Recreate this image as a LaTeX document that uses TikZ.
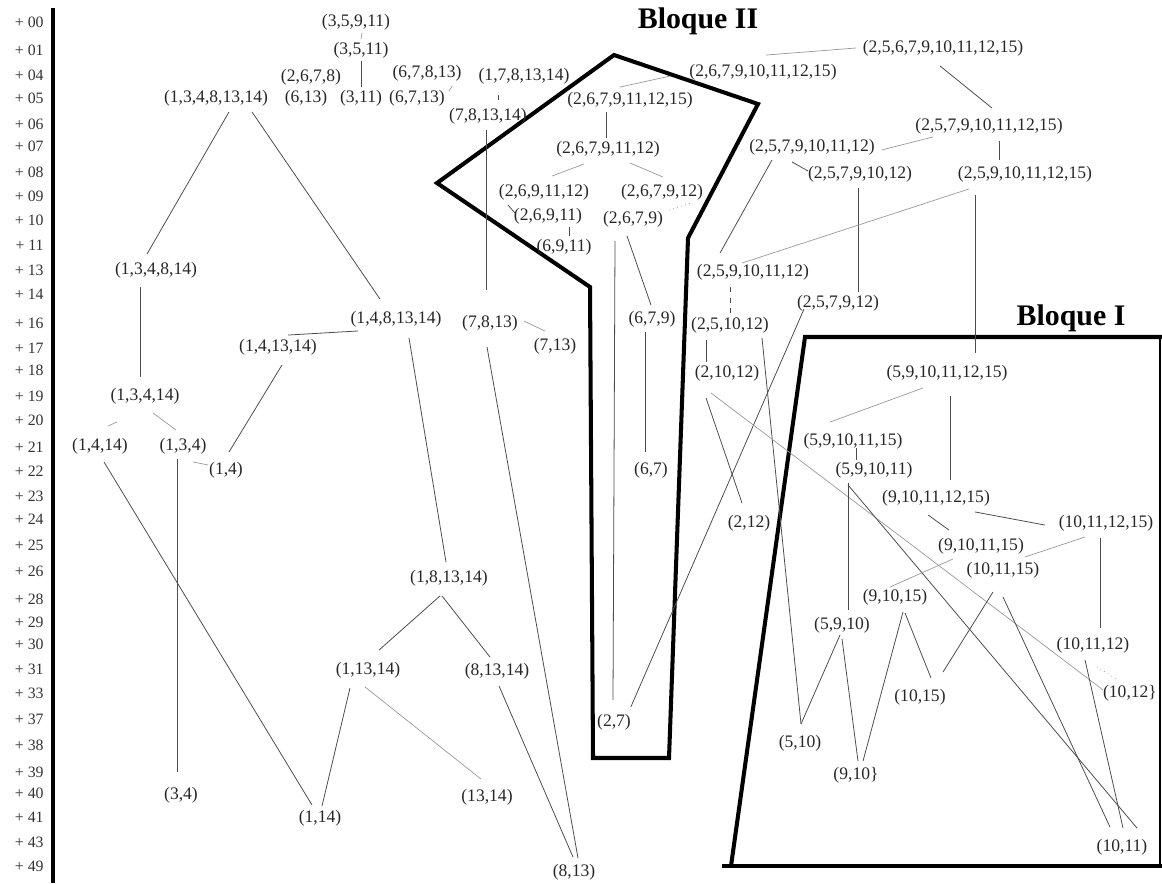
\documentclass[tikz,border=0pt]{standalone}
\usepackage{fontspec}
\setmainfont{Liberation Serif}
\usepackage{tikz}
\usetikzlibrary{calc}

\begin{document}
\begin{tikzpicture}[
    x=0.02cm, y=-0.02cm,
    set/.style={inner sep=1.5pt, font=\fontsize{10}{12}\selectfont, text=black!85},
    lvl/.style={anchor=east, inner sep=0pt, font=\fontsize{9}{11}\selectfont, text=black!80},
    link/.style={line width=0.45pt, black!70},
    weak/.style={line width=0.4pt, black!40},
    bloque/.style={line width=2.3pt, line join=miter},
    title/.style={font=\fontsize{17}{20}\selectfont\bfseries}
]
\useasboundingbox (0,0) rectangle (1162,883);

% Axis of levels
\draw[line width=2.2pt] (53,8) -- (53,883);
\foreach \yy/\lab in {22/00,50/01,75/04,98/05,124/06,146/07,172/08,196/09,220/10,245/11,270/13,294/14,323/16,348/17,370/18,396/19,420/20,447/21,471/22,496/23,519/24,545/25,571/26,599/28,622/29,644/30,669/31,693/33,719/37,745/38,772/39,793/40,817/41,842/43,866/49}
    \node[lvl] (t\lab) at (44,\yy) {+ \lab};

% Blocks
\draw[bloque] (614,55) -- (758,104) -- (688,238) -- (669,758) -- (593,758) -- (590,287) -- (437,183) -- cycle;
\draw[bloque] (731,866) -- (805,337) -- (1162,337);
\draw[bloque] (722,866) -- (1162,866);
\draw[line width=0.6pt] (1160,337) -- (1160,866);
\node[title] (b2) at (698,21) {Bloque II};
\node[title] (b1) at (1071,318) {Bloque I};

% Left tree
\node[set] (n3-5-9-11) at (356,22) {(3,5,9,11)};
\node[set] (n3-5-11) at (361,50) {(3,5,11)};
\node[set] (n2-6-7-8) at (311,77) {(2,6,7,8)};
\node[set] (n6-13) at (306,98) {(6,13)};
\node[set] (n3-11) at (361,98) {(3,11)};
\node[set] (n6-7-8-13) at (427,73) {(6,7,8,13)};
\node[set] (n6-7-13) at (417,98) {(6,7,13)};
\node[set] (n1-7-8-13-14) at (524,76) {(1,7,8,13,14)};
\node[set] (n7-8-13-14) at (488,116) {(7,8,13,14)};
\node[set] (n1-3-4-8-13-14) at (216,98) {(1,3,4,8,13,14)};
\node[set] (n1-3-4-8-14) at (156,270) {(1,3,4,8,14)};
\node[set] (n1-3-4-14) at (145,396) {(1,3,4,14)};
\node[set] (n1-4-8-13-14) at (396,319) {(1,4,8,13,14)};
\node[set] (n1-4-13-14) at (278,347) {(1,4,13,14)};
\node[set] (n1-4-14) at (100,446) {(1,4,14)};
\node[set] (n1-3-4) at (183,446) {(1,3,4)};
\node[set] (n1-4) at (226,470) {(1,4)};
\node[set] (n3-4) at (181,795) {(3,4)};
\node[set] (n1-14) at (320,818) {(1,14)};
\node[set] (n1-13-14) at (368,670) {(1,13,14)};
\node[set] (n1-8-13-14) at (449,578) {(1,8,13,14)};
\node[set] (n8-13-14) at (497,671) {(8,13,14)};
\node[set] (n13-14) at (487,797) {(13,14)};
\node[set] (n8-13) at (574,872) {(8,13)};
\node[set] (n7-8-13) at (490,323) {(7,8,13)};
\node[set] (n7-13) at (555,346) {(7,13)};

% Bloque II
\node[set] (n2-6-7-9-10-11-12-15) at (763,72) {(2,6,7,9,10,11,12,15)};
\node[set] (n2-6-7-9-11-12-15) at (630,100) {(2,6,7,9,11,12,15)};
\node[set] (n2-6-7-9-11-12) at (608,149) {(2,6,7,9,11,12)};
\node[set] (n2-6-9-11-12) at (544,192) {(2,6,9,11,12)};
\node[set] (n2-6-7-9-12) at (662,192) {(2,6,7,9,12)};
\node[set] (n2-6-9-11) at (548,216) {(2,6,9,11)};
\node[set] (n2-6-7-9) at (633,219) {(2,6,7,9)};
\node[set] (n6-9-11) at (564,247) {(6,9,11)};
\node[set] (n6-7-9) at (652,319) {(6,7,9)};
\node[set] (n6-7) at (651,470) {(6,7)};
\node[set] (n2-7) at (614,722) {(2,7)};

% Right part
\node[set] (n2-5-6-7-9-10-11-12-15) at (943,48) {(2,5,6,7,9,10,11,12,15)};
\node[set] (n2-5-7-9-10-11-12-15) at (989,126) {(2,5,7,9,10,11,12,15)};
\node[set] (n2-5-7-9-10-11-12) at (812,147) {(2,5,7,9,10,11,12)};
\node[set] (n2-5-9-10-11-12-15) at (1025,174) {(2,5,9,10,11,12,15)};
\node[set] (n2-5-7-9-10-12) at (860,174) {(2,5,7,9,10,12)};
\node[set] (n2-5-7-9-12) at (838,303) {(2,5,7,9,12)};
\node[set] (n2-5-9-10-11-12) at (753,272) {(2,5,9,10,11,12)};
\node[set] (n2-5-10-12) at (730,325) {(2,5,10,12)};
\node[set] (n2-10-12) at (727,373) {(2,10,12)};
\node[set] (n2-12) at (749,523) {(2,12)};

% Bloque I
\node[set] (n5-9-10-11-12-15) at (947,373) {(5,9,10,11,12,15)};
\node[set] (n5-9-10-11-15) at (853,441) {(5,9,10,11,15)};
\node[set] (n5-9-10-11) at (874,470) {(5,9,10,11)};
\node[set] (n9-10-11-12-15) at (936,498) {(9,10,11,12,15)};
\node[set] (n10-11-12-15) at (1106,523) {(10,11,12,15)};
\node[set] (n9-10-11-15) at (981,546) {(9,10,11,15)};
\node[set] (n10-11-15) at (1003,570) {(10,11,15)};
\node[set] (n9-10-15) at (895,597) {(9,10,15)};
\node[set] (n5-9-10) at (842,625) {(5,9,10)};
\node[set] (n10-11-12) at (1093,645) {(10,11,12)};
\node[set] (n10-12) at (1130,693) {(10,12\}};
\node[set] (n10-15) at (920,697) {(10,15)};
\node[set] (n5-10) at (800,743) {(5,10)};
\node[set] (n9-10) at (856,775) {(9,10\}};
\node[set] (n10-11) at (1122,847) {(10,11)};

% Links, left tree
\draw[weak] ($(n3-5-9-11.south)+(6,0)$) -- (n3-5-11.north);
\draw[link] (n3-5-11.south) -- (n3-11.north);
\draw[weak] ($(n6-7-13.east)+(1,-7)$) -- ($(n6-7-8-13.south east)+(-12,2)$);
\draw[link, dashed] ($(n1-7-8-13-14.south)+(-26,8)$) -- ($(n7-8-13-14.north)+(10,-4)$);
\draw[link] ($(n7-8-13-14.south)+(-2,3)$) -- ($(n7-8-13.north)+(-4,-22)$);
\draw[link] ($(n1-3-4-8-13-14.south)+(13,3)$) -- ($(n1-3-4-8-14.north)+(-9,-5)$);
\draw[link] ($(n1-3-4-8-13-14.south)+(36,3)$) -- ($(n1-4-8-13-14.north)+(-16,-9)$);
\draw[link] ($(n1-3-4-8-14.south)+(-16,6)$) -- ($(n1-3-4-14.north)+(-5,-8)$);
\draw[link] ($(n1-4-8-13-14.south)+(-38,1)$) -- ($(n1-4-13-14.north)+(10,-1)$);
\draw[link] ($(n1-4-13-14.south)+(4,7)$) -- ($(n1-4.north)+(3,-7)$);
\draw[weak] ($(n1-3-4-14.south)+(8,6)$) -- ($(n1-3-4.north)+(-7,-5)$);
\draw[weak] ($(n1-3-4-14.south)+(-28,15)$) -- ($(n1-4-14.north)+(8,-9)$);
\draw[weak] ($(n1-3-4.south)+(10,5)$) -- ($(n1-4.west)+(2,-5)$);
\draw[link] ($(n1-3-4.south)+(-6,2)$) -- ($(n3-4.north)+(-4,-12)$);
\draw[link] ($(n1-4-14.south)+(4,5)$) -- ($(n1-14.north)+(-8,-2)$);
\draw[link] ($(n1-13-14.south)+(-18,7)$) -- ($(n1-14.north)+(2,-1)$);
\draw[link] ($(n1-4-8-13-14.south)+(13,8)$) -- ($(n1-8-13-14.north)+(-3,-5)$);
\draw[link] ($(n1-8-13-14.south)+(-9,7)$) -- ($(n1-13-14.north)+(11,-9)$);
\draw[link] ($(n1-8-13-14.south)+(-7,7)$) -- ($(n8-13-14.north)+(-7,-3)$);
\draw[weak] ($(n1-13-14.south)+(-3,6)$) -- ($(n13-14.north)+(-6,-7)$);
\draw[link] ($(n8-13-14.south)+(2,4)$) -- ($(n8-13.north)+(-1,-4)$);
\draw[link] ($(n7-8-13.south)+(-3,13)$) -- ($(n8-13.north)+(4,-3)$);
\draw[weak] ($(n7-8-13.east)+(3,-2)$) -- ($(n7-13.north)+(-10,-4)$);

% Links, Bloque II
\draw[weak] ($(n2-5-6-7-9-10-11-12-15.west)+(-4,0)$) -- ($(n2-6-7-9-10-11-12-15.north)+(3,-6)$);
\draw[weak] ($(n2-6-7-9-11-12-15.north)+(-10,-2)$) -- ($(n2-6-7-9-10-11-12-15.west)+(-16,4)$);
\draw[link] ($(n2-6-7-9-11-12-15.south)+(-24,1)$) -- ($(n2-6-7-9-11-12.north)+(-2,0)$);
\draw[weak] ($(n2-6-7-9-11-12.south)+(-24,4)$) -- ($(n2-6-9-11-12.north)+(8,-5)$);
\draw[weak] ($(n2-6-7-9-11-12.south)+(22,3)$) -- ($(n2-6-7-9-12.north)+(1,-4)$);
\draw[link] ($(n2-6-9-11-12.south west)+(12,2)$) -- ($(n2-6-9-11.west)+(4,-3)$);
\draw[link] ($(n2-6-9-11.south)+(21,0)$) -- ($(n6-9-11.north)+(5,0)$);
\draw[weak, dotted] ($(n2-6-7-9.east)+(3,-9)$) -- ($(n2-6-7-9-12.south east)+(-15,0)$);
\draw[link] ($(n2-6-7-9.south)+(-18,11)$) -- ($(n2-7.north)+(-1,-11)$);
\draw[link] ($(n2-6-7-9.south)+(-6,6)$) -- ($(n6-7-9.north)+(-1,-3)$);
\draw[link] ($(n6-7-9.south)+(-7,2)$) -- ($(n6-7.north)+(-6,-7)$);
\draw[link] ($(n2-7.east)+(-3,-15)$) -- ($(n2-5-7-9-12.south west)+(10,-5)$);

% Links, right part
\draw[link] ($(n2-5-6-7-9-10-11-12-15.south)+(-3,7)$) -- ($(n2-5-7-9-10-11-12-15.north)+(3,-7)$);
\draw[weak] ($(n2-5-7-9-10-11-12-15.south)+(-56,0)$) -- ($(n2-5-7-9-10-11-12.east)+(4,3)$);
\draw[link] ($(n2-5-7-9-10-11-12-15.south)+(10,4)$) -- ($(n2-5-9-10-11-12-15.north)+(-26,-3)$);
\draw[link] ($(n2-5-7-9-10-11-12.south)+(-20,4)$) -- ($(n2-5-7-9-10-12.west)+(3,-3)$);
\draw[link] ($(n2-5-7-9-10-11-12.south)+(-40,2)$) -- ($(n2-5-9-10-11-12.north)+(-33,-8)$);
\draw[link] ($(n2-5-7-9-10-12.south)+(-2,3)$) -- ($(n2-5-7-9-12.north)+(20,0)$);
\draw[weak] ($(n2-5-9-10-11-12-15.south)+(-56,4)$) -- ($(n2-5-9-10-11-12.north)+(-11,2)$);
\draw[link] ($(n2-5-9-10-11-12-15.south)+(-50,10)$) -- ($(n5-9-10-11-12-15.north)+(28,-9)$);
\draw[link, dashed] ($(n2-5-9-10-11-12.south)+(-23,4)$) -- ($(n2-5-10-12.north)+(0,-1)$);
\draw[link] ($(n2-5-10-12.south)+(-24,4)$) -- ($(n2-10-12.north)+(-21,0)$);
\draw[link] ($(n2-5-10-12.south)+(32,2)$) -- ($(n5-10.north)+(1,-8)$);
\draw[link] ($(n2-10-12.south)+(-21,14)$) -- ($(n2-12.north)+(-7,-9)$);
\draw[weak] ($(n2-10-12.south)+(-16,9)$) -- ($(n10-12.west)+(3,-3)$);

% Links, Bloque I
\draw[weak] ($(n5-9-10-11-12-15.south)+(-24,4)$) -- ($(n5-9-10-11-15.north)+(-23,-8)$);
\draw[link] ($(n5-9-10-11-12-15.south)+(3,12)$) -- ($(n9-10-11-12-15.north)+(14,-7)$);
\draw[link] ($(n5-9-10-11-15.south)+(3,-4)$) -- ($(n5-9-10-11.north)+(-18,1)$);
\draw[link] ($(n5-9-10-11.south)+(-26,2)$) -- ($(n5-9-10.north)+(6,-4)$);
\draw[link] ($(n5-9-10-11.south)+(-26,4)$) -- ($(n10-11.north)+(15,-8)$);
\draw[link] ($(n9-10-11-12-15.south)+(39,3)$) -- ($(n10-11-12-15.west)+(-11,2)$);
\draw[link] ($(n9-10-11-12-15.south)+(-8,6)$) -- ($(n9-10-11-15.north)+(-32,-5)$);
\draw[weak] ($(n10-11-12-15.south)+(-21,3)$) -- ($(n9-10-11-15.east)+(-2,11)$);
\draw[link] ($(n10-11-12-15.south)+(-6,4)$) -- ($(n10-11-12.north)+(7,-6)$);
\draw[weak] ($(n9-10-11-15.south)+(-28,2)$) -- ($(n9-10-15.north)+(-5,1)$);
\draw[link] ($(n10-11-15.south)+(-10,11)$) -- ($(n10-15.north)+(23,-14)$);
\draw[link] ($(n10-11-15.south)+(0,16)$) -- ($(n10-11.north)+(-12,-9)$);
\draw[weak, dotted] ($(n10-11-12.south)+(4,11)$) -- ($(n10-12.north)+(-12,-2)$);
\draw[link] ($(n10-11-12.south)+(-8,4)$) -- ($(n10-11.north)+(1,-8)$);
\draw[link] ($(n5-9-10.south)+(-2,-1)$) -- ($(n5-10.north)+(1,-8)$);
\draw[link] ($(n5-9-10.south)+(0,3)$) -- ($(n9-10.north)+(2,-3)$);
\draw[link] ($(n9-10-15.south)+(8,4)$) -- ($(n9-10.north)+(7,-3)$);
\draw[link] ($(n9-10-15.south)+(10,5)$) -- ($(n10-15.north)+(11,-8)$);

\end{tikzpicture}
\end{document}
